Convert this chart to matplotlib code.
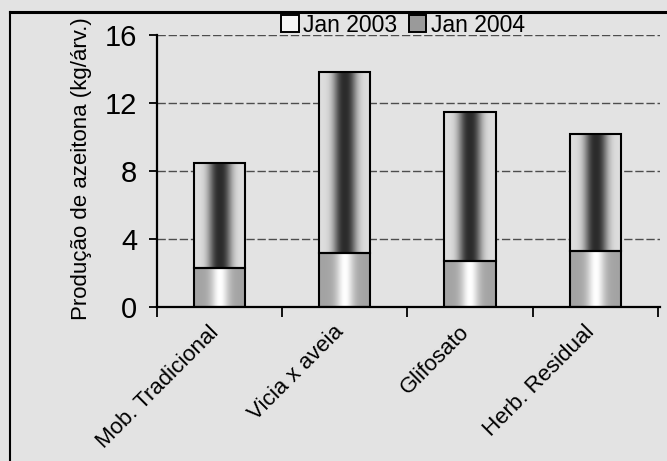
import numpy as np
import matplotlib
matplotlib.use("Agg")
import matplotlib.pyplot as plt
from matplotlib.patches import Patch
from matplotlib.lines import Line2D
from matplotlib.transforms import ScaledTranslation

plt.rcParams['font.family'] = ['Liberation Sans', 'DejaVu Sans']

# olive yield per tree, stacked by harvest
categories = ['Mob. Tradicional', 'Vicia x aveia', 'Glifosato', 'Herb. Residual']
jan_2003 = [2.3, 3.2, 2.7, 3.3]
jan_2004 = [6.2, 10.6, 8.8, 6.9]
series_names = ['Jan 2003', 'Jan 2004']
y_ticks = [0, 4, 8, 12, 16]

bg = '#e3e3e3'
bar_w = 0.41

fig = plt.figure(figsize=(6.67, 4.61), dpi=100, facecolor=bg)
ax = fig.add_axes([0.2349, 0.3334, 0.7552, 0.5907], facecolor=bg)

# horizontal gradient profiles for the two fills
t = np.linspace(-0.5, 0.5, 128)
fill_2003 = (0.64 + 0.36 * np.exp(-(np.abs(t) / 0.17) ** 2))[None, :]
fill_2004 = (0.87 - 0.70 * np.exp(-(np.abs(t) / 0.22) ** 2.5))[None, :]

x = np.arange(len(categories))
for xi, lo, hi in zip(x, jan_2003, jan_2004):
    ax.imshow(fill_2003, extent=[xi - bar_w / 2, xi + bar_w / 2, 0, lo],
              cmap='gray', vmin=0, vmax=1, aspect='auto',
              interpolation='bicubic', zorder=2)
    ax.imshow(fill_2004, extent=[xi - bar_w / 2, xi + bar_w / 2, lo, lo + hi],
              cmap='gray', vmin=0, vmax=1, aspect='auto',
              interpolation='bicubic', zorder=2)

ax.bar(x, jan_2003, width=bar_w, facecolor='none', edgecolor='black',
       linewidth=1.5, zorder=3)
ax.bar(x, jan_2004, bottom=jan_2003, width=bar_w, facecolor='none',
       edgecolor='black', linewidth=1.5, zorder=3)

ax.set_xlim(-0.5, 3.52)
ax.set_ylim(0, 16)
ax.set_yticks(y_ticks)
ax.set_yticklabels([str(v) for v in y_ticks])
ax.yaxis.grid(True, color='#4d4d4d', linestyle=(0, (6, 2)), linewidth=1.0)
ax.set_axisbelow(True)

ax.set_xticks(x)
ax.set_xticklabels(categories, rotation=45, ha='right', va='baseline',
                   rotation_mode='anchor', fontsize=16)
shift = ScaledTranslation(-5 / 100, 0, fig.dpi_scale_trans)
for lbl in ax.get_xticklabels():
    lbl.set_transform(lbl.get_transform() + shift)
ax.set_xticks(np.arange(-0.5, 4.0, 1.0), minor=True)
ax.tick_params(axis='x', which='major', length=0, pad=18.5)
ax.tick_params(axis='x', which='minor', length=7, width=1.3, direction='out')
ax.tick_params(axis='y', length=6, width=1.3, pad=8, labelsize=21)

for side in ['top', 'right']:
    ax.spines[side].set_visible(False)
for side in ['left', 'bottom']:
    ax.spines[side].set_linewidth(1.6)

fig.text(82 / 667, 1 - 169 / 461, 'Produção de azeitona (kg/árv.)',
         rotation=90, ha='center', va='center', fontsize=16)

handles = [Patch(facecolor='#f5f5f5', edgecolor='black', linewidth=1.4),
           Patch(facecolor='#9a9a9a', edgecolor='black', linewidth=1.4)]
fig.legend(handles, series_names, loc='center',
           bbox_to_anchor=(403 / 667, 1 - 25 / 461), ncol=2, frameon=False,
           fontsize=16.5, handlelength=0.75, handleheight=0.75,
           handletextpad=0.2, columnspacing=0.5, borderpad=0)

# outer frame
fig.add_artist(Line2D([10 / 667, 1], [1 - 12.5 / 461] * 2, color='black',
                      linewidth=2.2, transform=fig.transFigure))
fig.add_artist(Line2D([10 / 667] * 2, [0, 1 - 12.5 / 461], color='black',
                      linewidth=1.5, transform=fig.transFigure))

fig.savefig('out.png', dpi=100, facecolor=bg)
